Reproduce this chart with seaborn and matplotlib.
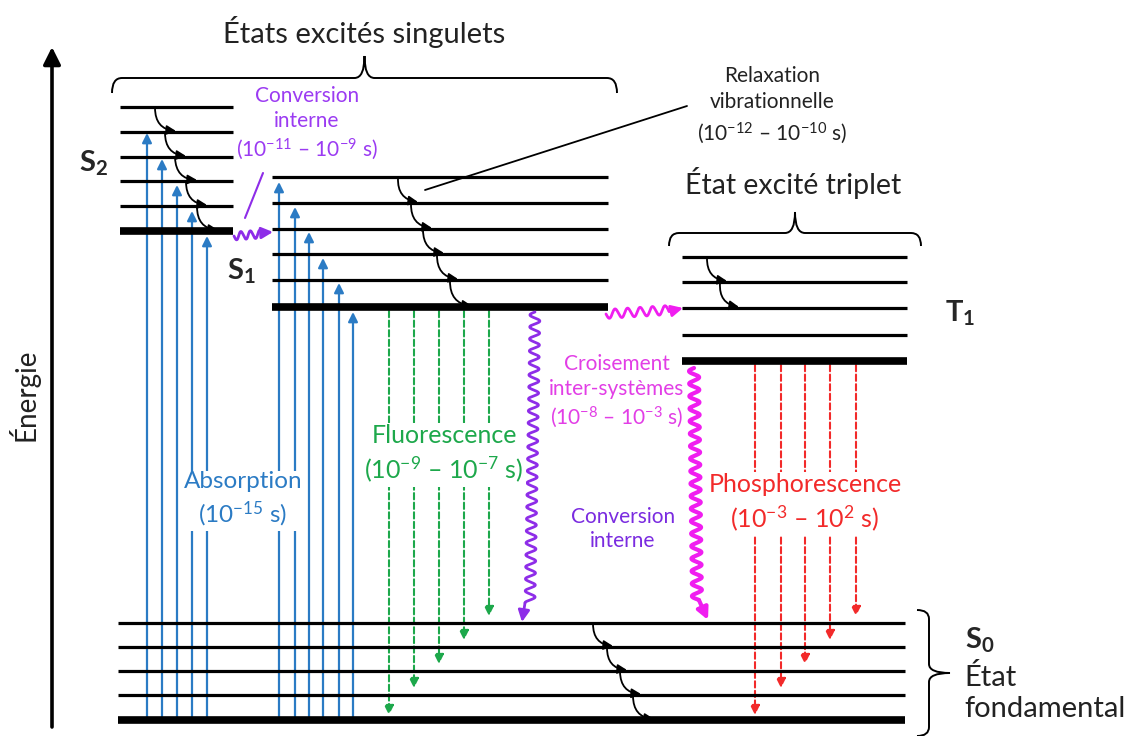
import numpy as np
import matplotlib
matplotlib.use('Agg')
import matplotlib.pyplot as plt
from matplotlib.path import Path
from matplotlib.patches import PathPatch
import seaborn as sns

sns.set_theme(style='white')
plt.rcParams['font.family'] = ['Lato', 'DejaVu Sans']
plt.rcParams['mathtext.fontset'] = 'custom'
plt.rcParams['mathtext.rm'] = 'Lato'
plt.rcParams['mathtext.bf'] = 'Lato:bold'
plt.rcParams['mathtext.default'] = 'regular'

# %% energy levels (image units, y grows downward; last entry = v=0 level)
s2_levels = [107, 132, 157, 181, 206, 231]
s1_levels = [177, 203, 229, 254, 280, 307]
t1_levels = [257, 282, 308, 335, 361]
s0_levels = [623, 647, 671, 695, 720]
s2_span = (120, 233)
s1_span = (272, 608)
t1_span = (682, 907)
s0_span = (118, 905)

# absorption arrows (start on S0 v=0)
abs_s2_x = [147, 162, 177, 192, 207]
abs_s2_top = [133, 159, 185, 211, 236]
abs_s1_x = [279, 295, 309, 323, 339, 353]
abs_s1_top = [182, 207, 232, 258, 283, 312]

# radiative decays
fluo_x = [389, 414, 439, 464, 489]
fluo_end = [715, 688, 664, 640, 616]
phos_x = [755, 781, 805, 830, 856]
phos_end = [715, 688, 664, 640, 616]

# vibrational relaxation hops (x at start, x at end)
relax_s2 = [(155, 176), (165, 186), (175, 197), (186, 207), (197, 218)]
relax_s1 = [(398, 418), (411, 432), (423, 444), (437, 458), (450, 472)]
relax_t1 = [(707, 727), (720, 739)]
relax_s0 = [(593, 613), (607, 627), (620, 641), (633, 654)]

blue = '#2B7BC4'
green = '#1DA84B'
red = '#F22A2A'
violet = '#8E2DE8'
magenta = '#F01EF0'


def draw_levels(ax, levels, span):
    for i, y in enumerate(levels):
        lw = 5.5 if i == len(levels) - 1 else 2.3
        ax.hlines(y, span[0], span[1], color='black', lw=lw, zorder=3)


def arrow(ax, x0, y0, x1, y1, color, lw=1.6, ls='-', ms=14, z=2):
    ax.annotate('', xy=(x1, y1), xytext=(x0, y0), zorder=z,
                arrowprops=dict(arrowstyle='-|>', color=color, lw=lw, ls=ls,
                                mutation_scale=ms, shrinkA=0, shrinkB=0))


def hop(ax, x0, y0, x1, y1):
    ax.annotate('', xy=(x1, y1), xytext=(x0, y0), zorder=4,
                arrowprops=dict(arrowstyle='-|>', color='black', lw=1.3,
                                mutation_scale=14, shrinkA=0, shrinkB=0,
                                connectionstyle='arc3,rad=0.45'))


def wavy(ax, p0, p1, tip, color, lw=2.0, amp=5, period=12):
    p0, p1 = np.array(p0, float), np.array(p1, float)
    d = p1 - p0
    L = np.hypot(*d)
    n = d / L
    perp = np.array([-n[1], n[0]])
    t = np.linspace(0, L, 600)
    pts = p0 + np.outer(t, n) + np.outer(amp * np.sin(2 * np.pi * t / period), perp)
    ax.plot(pts[:, 0], pts[:, 1], color=color, lw=lw, zorder=4, solid_capstyle='round')
    arrow(ax, pts[-1, 0], pts[-1, 1], tip[0], tip[1], color, lw=lw, ms=17, z=5)


def brace(ax, a0, a1, c, d_end, d_mid, r, vertical=False, lw=1.4):
    am = (a0 + a1) / 2
    pts = [(a0, c + d_end), (a0, c), (a0 + r, c), (am - r, c), (am, c), (am, c - d_mid),
           (am, c), (am + r, c), (a1 - r, c), (a1, c), (a1, c + d_end)]
    codes = [Path.MOVETO, Path.CURVE3, Path.CURVE3, Path.LINETO, Path.CURVE3, Path.CURVE3,
             Path.CURVE3, Path.CURVE3, Path.LINETO, Path.CURVE3, Path.CURVE3]
    if vertical:
        pts = [(q, p) for p, q in pts]
    ax.add_patch(PathPatch(Path(pts, codes), fc='none', ec='black', lw=lw, zorder=3))


fig = plt.figure(figsize=(11.31, 7.36), dpi=100)
ax = fig.add_axes([0, 0, 1, 1])
ax.set_xlim(0, 1131)
ax.set_ylim(736, 0)
ax.axis('off')

# energy axis
arrow(ax, 52, 727, 52, 47, 'black', lw=2.6, ms=26)
ax.text(24, 395, 'Énergie', rotation=90, ha='center', va='center', fontsize=20, color='#222222')

draw_levels(ax, s2_levels, s2_span)
draw_levels(ax, s1_levels, s1_span)
draw_levels(ax, t1_levels, t1_span)
draw_levels(ax, s0_levels, s0_span)

# absorption
for x, top in zip(abs_s2_x, abs_s2_top):
    arrow(ax, x, s0_levels[-1], x, top, blue)
for x, top in zip(abs_s1_x, abs_s1_top):
    arrow(ax, x, s0_levels[-1], x, top, blue)

# fluorescence / phosphorescence
for x, y1 in zip(fluo_x, fluo_end):
    arrow(ax, x, s1_levels[-1] + 4, x, y1, green, lw=1.5, ls=(0, (3, 1.6)), ms=14)
for x, y1 in zip(phos_x, phos_end):
    arrow(ax, x, t1_levels[-1] + 4, x, y1, red, lw=1.5, ls=(0, (3, 1.6)), ms=14)

# vibrational relaxation
for levels, hops in [(s2_levels, relax_s2), (s1_levels, relax_s1),
                     (t1_levels, relax_t1), (s0_levels, relax_s0)]:
    for i, (xa, xb) in enumerate(hops):
        hop(ax, xa, levels[i] + 1, xb, levels[i + 1] - 1)

# non-radiative transitions
wavy(ax, (234, 236), (262, 234), (273, 232), violet, lw=2.0, amp=4, period=9.5)
wavy(ax, (535, 312), (530, 603), (522, 622), violet, lw=2.0)
wavy(ax, (606, 314), (669, 310), (683, 308), magenta, lw=2.0, amp=4.5, period=12.5)
wavy(ax, (694, 368), (697, 600), (708, 620), magenta, lw=3.0, amp=5, period=12.5)
ax.plot([263, 245], [173, 218], color=violet, lw=1.5)

# braces
brace(ax, 112, 617, 78, 15, 22, 10)
brace(ax, 669, 921, 233, 13, 21, 10)
brace(ax, 610, 736, 929, -12, -21, 9, vertical=True)
ax.plot([425, 687], [190, 106], color='black', lw=1.3, zorder=4)

# titles & state labels
ax.text(364, 32, 'États excités singulets', ha='center', va='center', fontsize=21, color='#222222')
ax.text(793, 183, 'État excité triplet', ha='center', va='center', fontsize=20.5, color='#222222')
ax.text(772, 106, 'Relaxation\nvibrationnelle\n(10$^{-12}$ – 10$^{-10}$ s)', ha='center', va='center',
        fontsize=15, linespacing=1.4, color='#222222')
for txt, x, y in [('S$_2$', 94, 163), ('S$_1$', 241, 271), ('T$_1$', 945, 313), ('S$_0$', 965, 640)]:
    ax.text(x, y, txt, ha='left' if x > 900 else 'center', va='center', fontsize=21, fontweight='bold')
ax.text(964, 693, 'État\nfondamental', ha='left', va='center', fontsize=21, linespacing=1.2, color='#222222')

# process labels
box = dict(fc='white', ec='none', pad=2)
ax.text(243, 500, 'Absorption\n(10$^{-15}$ s)', ha='center', va='center', fontsize=17.5, color=blue,
        linespacing=1.3, bbox=box, zorder=6)
ax.text(444, 454, 'Fluorescence\n(10$^{-9}$ – 10$^{-7}$ s)', ha='center', va='center', fontsize=18,
        color=green, linespacing=1.3, bbox=box, zorder=6)
ax.text(805, 503, 'Phosphorescence\n(10$^{-3}$ – 10$^{2}$ s)', ha='center', va='center', fontsize=18,
        color=red, linespacing=1.3, bbox=box, zorder=6)
ax.text(307, 124, 'Conversion\ninterne\n(10$^{-11}$ – 10$^{-9}$ s)', ha='center', va='center', fontsize=15,
        color='#9B3BF2', linespacing=1.3)
ax.text(617, 392, 'Croisement\ninter-systèmes\n(10$^{-8}$ – 10$^{-3}$ s)', ha='center', va='center', fontsize=15,
        color='#E23EE6', linespacing=1.3)
ax.text(623, 529, 'Conversion\ninterne', ha='center', va='center', fontsize=15, color='#7A2BE0',
        linespacing=1.3)

fig.savefig('out.png', dpi=100, facecolor='white')
